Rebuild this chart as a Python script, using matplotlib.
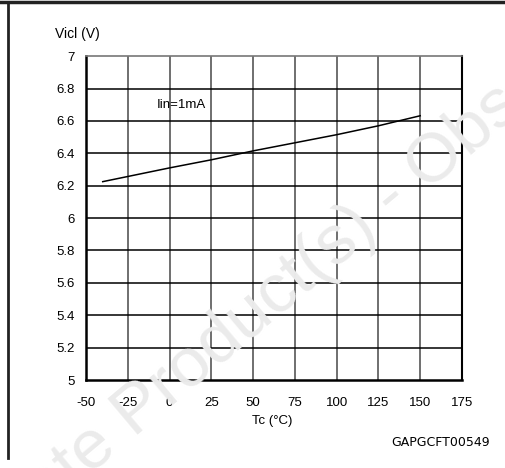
import matplotlib.pyplot as plt
import numpy as np

plt.rcParams['font.family'] = ['Liberation Sans', 'DejaVu Sans']
plt.rcParams['axes.unicode_minus'] = False

# Vicl vs case temperature, Iin = 1 mA
temp = [-40, 0, 25, 50, 75, 100, 125, 150]
vicl = [6.225, 6.31, 6.36, 6.415, 6.465, 6.515, 6.57, 6.632]

x_ticks = [-50, -25, 0, 25, 50, 75, 100, 125, 150, 175]
y_ticks = [5, 5.2, 5.4, 5.6, 5.8, 6, 6.2, 6.4, 6.6, 6.8, 7]
y_labels = ['5', '5.2', '5.4', '5.6', '5.8', '6', '6.2', '6.4', '6.6', '6.8', '7']

fig = plt.figure(figsize=(5.06, 4.68), dpi=100)
ax = fig.add_axes([0.170, 0.188, 0.743, 0.692])

ax.plot(temp, vicl, color='black', lw=1.1, zorder=3)

ax.set_xlim(-50, 175)
ax.set_ylim(5, 7)
ax.set_xticks(x_ticks)
ax.set_yticks(y_ticks)
ax.set_yticklabels(y_labels)
ax.tick_params(length=0, labelsize=9.5)
ax.tick_params(axis='y', pad=8)
ax.tick_params(axis='x', pad=12)

for xv in x_ticks[1:-1]:
    ax.axvline(xv, color='#484848', lw=1.1, zorder=1)
for yv in y_ticks[1:-1]:
    ax.axhline(yv, color='black', lw=1.1, zorder=1)

for side in ['left', 'bottom']:
    ax.spines[side].set_linewidth(1.8)
ax.spines['top'].set_color('#777777')
ax.spines['top'].set_linewidth(1.2)
ax.spines['right'].set_linewidth(1.5)

ax.text(6.8, 6.697, 'Iin=1mA', ha='center', va='center', fontsize=9.5)

fig.text(55 / 506, 1 - 34 / 468, 'Vicl (V)', ha='left', va='center', fontsize=10)
fig.text(272 / 506, 1 - 421 / 468, 'Tc (\u00b0C)', ha='center', va='center', fontsize=9.5)
fig.text(490 / 506, 1 - 443 / 468, 'GAPGCFT00549', ha='right', va='center',
         fontsize=9, family='DejaVu Sans')

# page frame: top and left rules
fig.add_artist(plt.Line2D([0, 1], [1 - 2 / 468, 1 - 2 / 468], color='#222222', lw=2.5))
fig.add_artist(plt.Line2D([8 / 506, 8 / 506], [1 - 2 / 468, 1 - 458 / 468], color='#222222', lw=2))

# watermark
fig.text(392 / 506, 1 - 198 / 468, 'Obsolete Product(s) - Obsolete Product(s)', rotation=40,
         rotation_mode='anchor', ha='center', va='center', fontsize=50,
         color='#ebebeb', zorder=10)

plt.savefig('out.png', dpi=100)
